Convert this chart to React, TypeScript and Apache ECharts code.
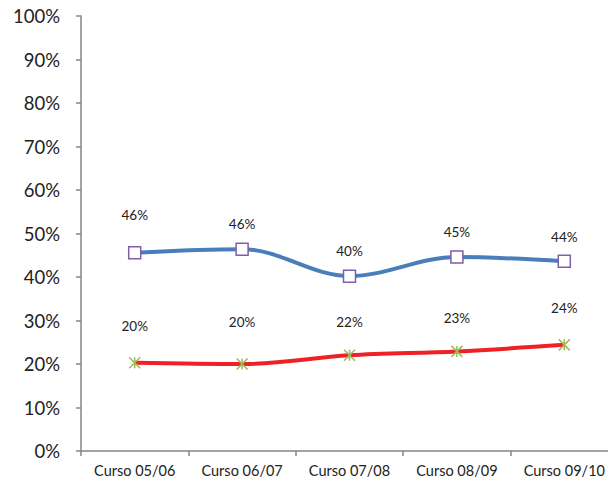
import React, { useEffect, useRef } from "react";
import * as echarts from "echarts";

const categories = ["Curso 05/06", "Curso 06/07", "Curso 07/08", "Curso 08/09", "Curso 09/10"];
const blueValues = [45.6, 46.4, 40.2, 44.6, 43.6];
const redValues = [20.3, 20.0, 22.0, 22.9, 24.4];
const yTicks = { min: 0, max: 100, interval: 10 };

const FONT = "Lato, 'Open Sans', 'Liberation Sans', sans-serif";

// per-point label distance tweaks (styling, mimicking manually placed labels)
const blueLabelDist = [24, 11, 11, 11, 11];
const redLabelDist = [22, 27, 18, 18, 22];

export default function App() {
  const ref = useRef<HTMLDivElement>(null);
  useEffect(() => {
    if (!ref.current) return;
    const chart = echarts.init(ref.current, undefined, { renderer: "svg" });
    chart.setOption({
      animation: false,
      backgroundColor: "#ffffff",
      grid: { left: 81, top: 16, width: 537, height: 435, outerBoundsMode: "none", containLabel: false },
      xAxis: {
        type: "category",
        data: categories,
        boundaryGap: true,
        axisLine: { lineStyle: { color: "#868686", width: 1.5 } },
        axisTick: { show: true, length: 5, interval: 0, lineStyle: { color: "#868686", width: 1.5 } },
        axisLabel: {
          color: "#222",
          fontSize: 14.5,
          fontFamily: FONT,
          margin: 12,
          interval: 0,
          hideOverlap: false,
        },
      },
      yAxis: {
        type: "value",
        min: yTicks.min,
        max: yTicks.max,
        interval: yTicks.interval,
        splitLine: { show: false },
        axisLine: { show: true, lineStyle: { color: "#868686", width: 1.5 } },
        axisTick: { show: true, length: 5, lineStyle: { color: "#868686", width: 1.5 } },
        axisLabel: {
          color: "#222",
          fontSize: 18.5,
          fontFamily: FONT,
          margin: 21,
          formatter: "{value}%",
        },
      },
      series: [
        {
          type: "line",
          data: blueValues.map((v, i) => ({ value: v, label: { distance: blueLabelDist[i] } })),
          smooth: 0.35,
          symbol: "rect",
          symbolSize: 12,
          lineStyle: { color: "#4a7ebb", width: 4 },
          itemStyle: { color: "#ffffff", borderColor: "#7f5fa8", borderWidth: 1.5 },
          label: {
            show: true,
            position: "top",
            color: "#222",
            fontSize: 13.5,
            fontFamily: FONT,
            formatter: (p: any) => Math.round(p.value) + "%",
          },
          z: 3,
        },
        {
          type: "line",
          data: redValues.map((v, i) => ({ value: v, label: { distance: redLabelDist[i] } })),
          smooth: 0.35,
          symbol: "path://M0,0L10,10M10,0L0,10M5,0L5,10",
          symbolSize: 11,
          lineStyle: { color: "#ee2226", width: 4 },
          itemStyle: { color: "none", borderColor: "#9bbb59", borderWidth: 1.5 },
          label: {
            show: true,
            position: "top",
            color: "#222",
            fontSize: 13.5,
            fontFamily: FONT,
            formatter: (p: any) => Math.round(p.value) + "%",
          },
          z: 3,
        },
      ],
    });
    return () => chart.dispose();
  }, []);
  return (
    <div
      ref={ref}
      style={{ position: "fixed", left: 0, top: 0, width: 608, height: 483, background: "#fff" }}
    />
  );
}
